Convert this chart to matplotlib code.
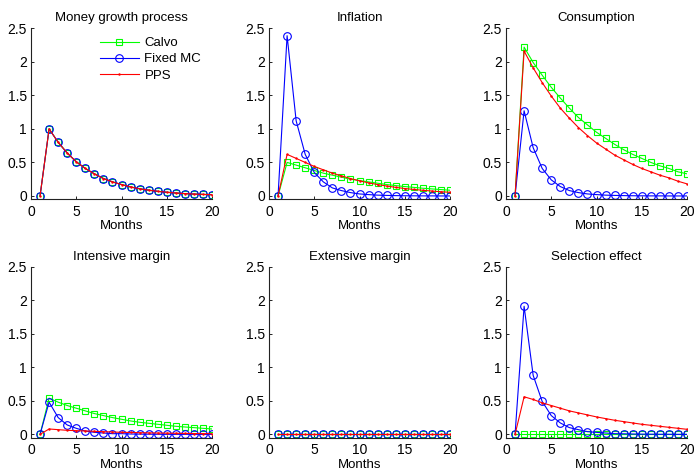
import matplotlib
matplotlib.use("Agg")
import matplotlib.pyplot as plt

plt.rcParams['font.family'] = ['Liberation Sans', 'DejaVu Sans']
plt.rcParams['font.size'] = 9

months = list(range(1, 21))

money_calvo = [0, 1.0, 0.80, 0.64, 0.51, 0.41, 0.33, 0.26, 0.21, 0.17,
               0.134, 0.107, 0.086, 0.069, 0.055, 0.044, 0.035, 0.028, 0.023, 0.018]
money_fixed = list(money_calvo)
money_pps = list(money_calvo)

infl_calvo = [0, 0.50, 0.46, 0.42, 0.38, 0.34, 0.31, 0.28, 0.25, 0.23,
              0.21, 0.19, 0.17, 0.155, 0.14, 0.128, 0.115, 0.105, 0.095, 0.085]
infl_fixed = [0, 2.39, 1.12, 0.62, 0.35, 0.21, 0.12, 0.08, 0.05, 0.03,
              0.02, 0.012, 0.008, 0.005, 0.003, 0.002, 0.001, 0.001, 0.0, 0.0]
infl_pps = [0, 0.62, 0.56, 0.50, 0.44, 0.39, 0.34, 0.30, 0.26, 0.225,
            0.195, 0.17, 0.148, 0.128, 0.111, 0.097, 0.084, 0.073, 0.063, 0.055]

cons_calvo = [0, 2.22, 1.99, 1.80, 1.62, 1.46, 1.31, 1.17, 1.06, 0.95,
              0.86, 0.77, 0.69, 0.62, 0.56, 0.50, 0.45, 0.41, 0.36, 0.33]
cons_fixed = [0, 1.27, 0.72, 0.41, 0.24, 0.14, 0.08, 0.05, 0.03, 0.02,
              0.012, 0.008, 0.005, 0.003, 0.002, 0.001, 0.001, 0.0, 0.0, 0.0]
cons_pps = [0, 2.16, 1.91, 1.69, 1.49, 1.31, 1.16, 1.02, 0.90, 0.79,
            0.70, 0.61, 0.54, 0.47, 0.41, 0.36, 0.31, 0.27, 0.22, 0.18]

intens_calvo = [0, 0.54, 0.48, 0.43, 0.39, 0.35, 0.31, 0.28, 0.25, 0.225,
                0.20, 0.18, 0.165, 0.15, 0.135, 0.12, 0.11, 0.10, 0.09, 0.08]
intens_fixed = [0, 0.48, 0.25, 0.14, 0.09, 0.05, 0.03, 0.02, 0.01, 0.01,
                0.005, 0.003, 0.002, 0.001, 0.0, 0.0, 0.0, 0.0, 0.0, 0.0]
intens_pps = [0, 0.08, 0.07, 0.06, 0.055, 0.05, 0.045, 0.04, 0.035, 0.03,
              0.028, 0.025, 0.022, 0.02, 0.018, 0.016, 0.014, 0.012, 0.011, 0.01]

extens_calvo = [0.0] * 20
extens_fixed = [0.0] * 20
extens_pps = [0.0] * 20

select_calvo = [0.0] * 20
select_fixed = [0, 1.91, 0.88, 0.49, 0.28, 0.17, 0.10, 0.07, 0.04, 0.03,
                0.02, 0.01, 0.008, 0.005, 0.003, 0.002, 0.001, 0.001, 0.0, 0.0]
select_pps = [0, 0.56, 0.52, 0.47, 0.43, 0.39, 0.35, 0.32, 0.29, 0.26,
              0.235, 0.21, 0.19, 0.17, 0.15, 0.135, 0.12, 0.105, 0.09, 0.075]

titles = ["Money growth process", "Inflation", "Consumption",
          "Intensive margin", "Extensive margin", "Selection effect"]
panels = [
    (money_calvo, money_fixed, money_pps),
    (infl_calvo, infl_fixed, infl_pps),
    (cons_calvo, cons_fixed, cons_pps),
    (intens_calvo, intens_fixed, intens_pps),
    (extens_calvo, extens_fixed, extens_pps),
    (select_calvo, select_fixed, select_pps),
]
series_names = ["Calvo", "Fixed MC", "PPS"]

W, H = 694, 472
fig = plt.figure(figsize=(W / 100, H / 100), dpi=100)

lefts = [31, 269, 506]
tops = [28.3, 266.7]
aw, ah = 181, 171

for i, (title, (calvo, fixed, pps)) in enumerate(zip(titles, panels)):
    r, c = divmod(i, 3)
    ax = fig.add_axes([lefts[c] / W, 1 - (tops[r] + ah) / H, aw / W, ah / H])
    ax.plot(months, calvo, color=(0, 1, 0), lw=0.8, marker='s', ms=4.5,
            mfc='none', mew=0.8, label=series_names[0])
    ax.plot(months, fixed, color=(0, 0, 1), lw=0.8, marker='o', ms=5.5,
            mfc='none', mew=0.8, label=series_names[1])
    ax.plot(months, pps, color=(1, 0, 0), lw=0.8, marker='.', ms=1.5,
            label=series_names[2])
    ax.set_xlim(0, 20)
    ax.set_ylim(-0.05, 2.5)
    ax.set_xticks([0, 5, 10, 15, 20])
    ax.set_yticks([0, 0.5, 1, 1.5, 2, 2.5])
    ax.set_yticklabels(["0", "0.5", "1", "1.5", "2", "2.5"])
    ax.spines['top'].set_visible(False)
    ax.spines['right'].set_visible(False)
    for s in ('left', 'bottom'):
        ax.spines[s].set_linewidth(0.8)
        ax.spines[s].set_color('#222222')
    ax.tick_params(direction='in', length=2.5, width=0.6, labelsize=10)
    ax.tick_params(axis='x', pad=4)
    ax.tick_params(axis='y', pad=3)
    ax.set_title(title, fontsize=9.5, pad=5)
    ax.set_xlabel("Months", fontsize=9.5, labelpad=1)
    if i == 0:
        ax.legend(loc='upper left', bbox_to_anchor=(0.35, 0.98), frameon=False,
                  handlelength=3.0, handletextpad=0.4, labelspacing=0.3,
                  fontsize=9.5, borderaxespad=0)

fig.savefig("out.png", dpi=100)
